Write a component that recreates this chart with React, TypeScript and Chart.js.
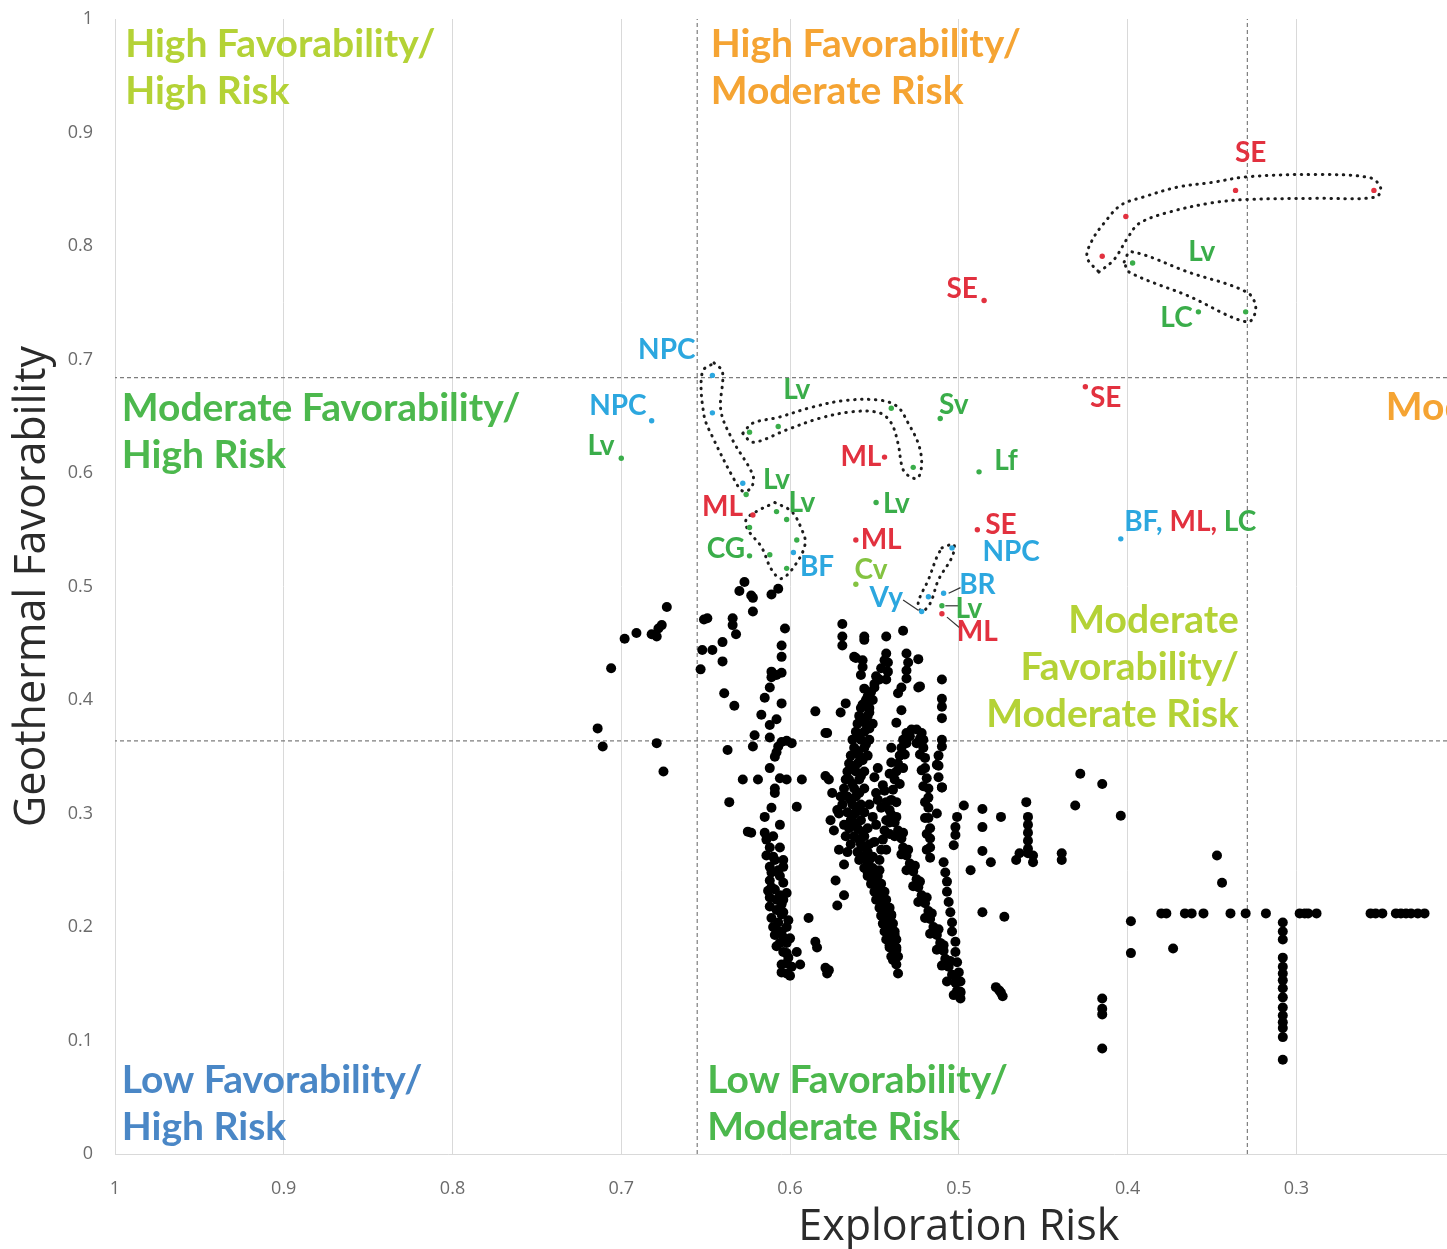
import React, { useEffect, useRef } from "react";
import { Chart, registerables } from "chart.js";

Chart.register(...registerables);

// ---------- axes ----------
const X_TICKS = [1, 0.9, 0.8, 0.7, 0.6, 0.5, 0.4, 0.3];
const Y_TICKS = [0, 0.1, 0.2, 0.3, 0.4, 0.5, 0.6, 0.7, 0.8, 0.9, 1];
const X_MAX = 1;
const X_MIN = 0.2107; // axis is cropped at the right edge of the figure
const RISK_THRESHOLDS = [0.655, 0.329];
const FAV_THRESHOLDS = [0.684, 0.364];

// ---------- colours ----------
const RED = "#e2313f";
const BLUE = "#2ca7df";
const GREEN = "#3aad4a";
const LIME = "#84c341";
const Q_YELLOWGREEN = "#b4d236";
const Q_ORANGE = "#f5a433";
const Q_GREEN = "#4cb84d";
const Q_BLUE = "#4a87c6";

// ---------- labelled sites (x = exploration risk, y = favorability) ----------
const redSites: number[][] = [
  [0.336, 0.849], [0.254, 0.849], [0.401, 0.826], [0.415, 0.791], [0.485, 0.752],
  [0.425, 0.676], [0.544, 0.614], [0.622, 0.563], [0.561, 0.541], [0.489, 0.55], [0.51, 0.476],
];
const blueSites: number[][] = [
  [0.646, 0.686], [0.646, 0.653], [0.682, 0.646], [0.628, 0.591], [0.598, 0.53],
  [0.504, 0.534], [0.509, 0.494], [0.518, 0.491], [0.522, 0.478], [0.404, 0.542],
];
const greenSites: number[][] = [
  [0.397, 0.785], [0.33, 0.742], [0.358, 0.742], [0.511, 0.648], [0.7, 0.613],
  [0.624, 0.636], [0.607, 0.641], [0.54, 0.657], [0.527, 0.605], [0.626, 0.581],
  [0.624, 0.552], [0.608, 0.566], [0.602, 0.559], [0.596, 0.541], [0.624, 0.527],
  [0.612, 0.528], [0.602, 0.516], [0.549, 0.574], [0.488, 0.601], [0.51, 0.483],
];
const limeSites: number[][] = [[0.561, 0.502]];

// ---------- unlabelled sites (black) ----------
const westCluster: number[][] = [
  [0.673, 0.482], [0.698, 0.454], [0.691, 0.459], [0.682, 0.458], [0.679, 0.456], [0.678, 0.463],
  [0.676, 0.466], [0.706, 0.428], [0.714, 0.375], [0.711, 0.359], [0.679, 0.362], [0.675, 0.337],
];
const riskEdgeCluster: number[][] = [
  [0.651, 0.471], [0.649, 0.472], [0.652, 0.444], [0.646, 0.444], [0.653, 0.427], [0.64, 0.451],
  [0.64, 0.434], [0.639, 0.406], [0.633, 0.395], [0.634, 0.472], [0.634, 0.466], [0.632, 0.458],
  [0.63, 0.496], [0.627, 0.504], [0.623, 0.492], [0.622, 0.49], [0.622, 0.478], [0.611, 0.493],
  [0.607, 0.498], [0.603, 0.463], [0.605, 0.448], [0.605, 0.438], [0.605, 0.424], [0.608, 0.422],
  [0.611, 0.42], [0.611, 0.425], [0.612, 0.411], [0.615, 0.402], [0.605, 0.397], [0.617, 0.387],
  [0.608, 0.383], [0.612, 0.378], [0.612, 0.367], [0.621, 0.369], [0.622, 0.359], [0.637, 0.356],
  [0.605, 0.363], [0.602, 0.364], [0.599, 0.362], [0.607, 0.359], [0.608, 0.354], [0.609, 0.35],
  [0.612, 0.34], [0.628, 0.33], [0.619, 0.33], [0.606, 0.331], [0.602, 0.33], [0.593, 0.33],
  [0.609, 0.322], [0.609, 0.318], [0.636, 0.31], [0.611, 0.305], [0.596, 0.306], [0.585, 0.39],
  [0.579, 0.371], [0.579, 0.333],
];
const column60: number[][] = [
  [0.615, 0.297], [0.625, 0.284], [0.623, 0.283], [0.615, 0.283], [0.614, 0.277], [0.612, 0.27],
  [0.614, 0.263], [0.604, 0.259], [0.604, 0.253], [0.612, 0.253], [0.611, 0.248], [0.612, 0.241],
  [0.611, 0.235], [0.612, 0.226], [0.608, 0.224], [0.604, 0.239], [0.602, 0.23], [0.604, 0.224],
  [0.608, 0.215], [0.605, 0.211], [0.611, 0.208], [0.601, 0.206], [0.607, 0.204], [0.602, 0.2],
  [0.608, 0.197], [0.604, 0.191], [0.608, 0.183], [0.602, 0.186], [0.602, 0.177], [0.596, 0.178],
  [0.602, 0.168], [0.602, 0.159], [0.594, 0.167], [0.589, 0.208], [0.585, 0.187], [0.584, 0.182],
  [0.579, 0.164], [0.578, 0.159], [0.609, 0.259], [0.607, 0.25], [0.609, 0.233], [0.605, 0.22],
  [0.609, 0.193], [0.601, 0.173], [0.605, 0.167],
  [0.606, 0.29], [0.61, 0.28], [0.606, 0.27], [0.61, 0.262], [0.606, 0.245], [0.613, 0.232],
  [0.606, 0.228], [0.612, 0.218], [0.604, 0.213], [0.61, 0.2], [0.605, 0.196], [0.606, 0.186],
  [0.6, 0.19], [0.604, 0.178], [0.599, 0.165], [0.605, 0.16], [0.6, 0.157],
];
const midField: number[][] = [
  [0.569, 0.467], [0.569, 0.456], [0.569, 0.448], [0.556, 0.456], [0.556, 0.453], [0.543, 0.456],
  [0.533, 0.461], [0.561, 0.437], [0.557, 0.435], [0.543, 0.441], [0.542, 0.433], [0.542, 0.425],
  [0.543, 0.418], [0.531, 0.441], [0.53, 0.433], [0.531, 0.426], [0.531, 0.419], [0.524, 0.436],
  [0.557, 0.429], [0.558, 0.422], [0.547, 0.418], [0.55, 0.411], [0.556, 0.41], [0.554, 0.403],
  [0.524, 0.411], [0.51, 0.418], [0.51, 0.401], [0.51, 0.394], [0.51, 0.384], [0.534, 0.411],
  [0.536, 0.406], [0.567, 0.397], [0.57, 0.389], [0.534, 0.391], [0.578, 0.371], [0.562, 0.438],
  [0.523, 0.412], [0.512, 0.351], [0.512, 0.342], [0.512, 0.332], [0.51, 0.323], [0.51, 0.365],
  [0.544, 0.435], [0.546, 0.428], [0.549, 0.421], [0.55, 0.414], [0.552, 0.407],
];
const spine: number[][] = [
  [0.555, 0.4], [0.551, 0.4], [0.558, 0.393], [0.553, 0.393], [0.559, 0.386], [0.554, 0.386],
  [0.56, 0.379], [0.555, 0.379], [0.551, 0.379], [0.561, 0.372], [0.556, 0.372],
  [0.563, 0.365], [0.558, 0.365], [0.553, 0.365], [0.562, 0.358], [0.556, 0.358],
  [0.564, 0.351], [0.559, 0.351], [0.554, 0.351], [0.565, 0.344], [0.56, 0.344],
  [0.566, 0.337], [0.561, 0.337], [0.556, 0.337], [0.565, 0.33], [0.559, 0.33],
  [0.568, 0.322], [0.562, 0.322], [0.556, 0.322], [0.566, 0.315], [0.561, 0.315],
  [0.569, 0.308], [0.563, 0.308], [0.558, 0.308], [0.553, 0.308], [0.566, 0.301], [0.561, 0.301],
  [0.556, 0.301], [0.564, 0.294], [0.558, 0.294], [0.565, 0.287], [0.56, 0.287], [0.554, 0.287],
  [0.562, 0.28], [0.556, 0.28], [0.564, 0.273], [0.558, 0.273], [0.553, 0.273], [0.56, 0.266],
  [0.554, 0.266], [0.559, 0.259], [0.553, 0.259], [0.556, 0.252], [0.551, 0.252], [0.554, 0.245],
  [0.548, 0.245], [0.552, 0.238], [0.546, 0.238], [0.55, 0.231], [0.544, 0.231], [0.549, 0.224],
  [0.543, 0.224], [0.547, 0.217], [0.541, 0.217], [0.546, 0.21], [0.54, 0.21], [0.545, 0.203],
  [0.539, 0.203], [0.544, 0.196], [0.538, 0.196], [0.543, 0.189], [0.537, 0.189], [0.541, 0.182],
  [0.537, 0.182], [0.54, 0.174], [0.536, 0.174], [0.537, 0.167], [0.536, 0.159],
  [0.557, 0.396], [0.553, 0.389], [0.557, 0.382], [0.553, 0.375], [0.559, 0.369], [0.555, 0.361],
  [0.56, 0.355], [0.557, 0.347], [0.562, 0.341], [0.558, 0.333], [0.563, 0.326], [0.559, 0.318],
  [0.564, 0.312], [0.56, 0.305], [0.563, 0.298], [0.561, 0.291], [0.557, 0.284], [0.559, 0.277],
  [0.556, 0.27], [0.557, 0.262], [0.554, 0.256], [0.552, 0.249], [0.55, 0.242], [0.548, 0.235],
  [0.546, 0.228], [0.545, 0.221], [0.543, 0.214], [0.542, 0.207], [0.541, 0.2], [0.54, 0.193],
  [0.539, 0.186], [0.538, 0.178], [0.567, 0.33], [0.57, 0.315], [0.571, 0.3], [0.568, 0.29],
  [0.567, 0.28], [0.566, 0.266],
];
const innerBand: number[][] = [
  [0.548, 0.34], [0.545, 0.325], [0.549, 0.318], [0.546, 0.305], [0.549, 0.29], [0.55, 0.275],
  [0.551, 0.262], [0.543, 0.31], [0.544, 0.32], [0.541, 0.335], [0.54, 0.345],
];
const leftScatter: number[][] = [
  [0.575, 0.318], [0.572, 0.303], [0.574, 0.285], [0.571, 0.268], [0.576, 0.294], [0.568, 0.255],
  [0.573, 0.241], [0.577, 0.162], [0.577, 0.33], [0.568, 0.228], [0.572, 0.219],
];
const hairpin: number[][] = [
  [0.533, 0.365], [0.531, 0.371], [0.528, 0.374], [0.525, 0.374], [0.522, 0.371], [0.521, 0.365],
  [0.534, 0.358], [0.535, 0.351], [0.536, 0.344], [0.537, 0.337], [0.538, 0.33], [0.539, 0.321],
  [0.54, 0.312], [0.541, 0.303], [0.543, 0.294], [0.544, 0.285], [0.545, 0.277], [0.546, 0.268],
  [0.547, 0.259], [0.547, 0.25],
  [0.521, 0.358], [0.52, 0.349], [0.52, 0.34], [0.519, 0.331], [0.518, 0.322], [0.518, 0.314],
  [0.518, 0.305], [0.518, 0.296], [0.517, 0.287], [0.517, 0.278], [0.517, 0.27], [0.517, 0.261],
  [0.531, 0.362], [0.529, 0.368], [0.523, 0.366], [0.532, 0.352], [0.533, 0.34], [0.535, 0.326],
  [0.537, 0.31], [0.539, 0.296], [0.541, 0.282], [0.543, 0.268], [0.523, 0.352], [0.522, 0.338],
  [0.521, 0.324], [0.52, 0.31], [0.52, 0.296], [0.519, 0.282], [0.519, 0.268],
];
const diagonalA: number[][] = [
  [0.54, 0.299], [0.538, 0.292], [0.536, 0.285], [0.534, 0.278], [0.533, 0.27], [0.531, 0.263],
  [0.529, 0.256], [0.527, 0.249], [0.525, 0.242], [0.524, 0.235], [0.522, 0.228], [0.52, 0.221],
  [0.518, 0.214], [0.517, 0.207], [0.515, 0.2], [0.513, 0.193], [0.511, 0.186], [0.509, 0.179],
  [0.508, 0.172], [0.506, 0.165], [0.504, 0.158], [0.502, 0.151], [0.501, 0.144], [0.499, 0.137],
  [0.537, 0.297], [0.533, 0.283], [0.53, 0.268], [0.526, 0.254], [0.523, 0.24], [0.519, 0.226],
  [0.516, 0.212], [0.512, 0.198], [0.509, 0.184], [0.505, 0.17], [0.502, 0.156], [0.499, 0.142],
  [0.541, 0.292], [0.538, 0.28], [0.534, 0.264], [0.531, 0.25], [0.527, 0.236], [0.524, 0.222],
  [0.52, 0.208], [0.517, 0.194], [0.513, 0.18], [0.51, 0.166], [0.507, 0.152], [0.503, 0.14],
];
const diagonalB: number[][] = [
  [0.509, 0.257], [0.508, 0.248], [0.507, 0.24], [0.507, 0.231], [0.506, 0.222], [0.505, 0.213],
  [0.504, 0.204], [0.504, 0.196], [0.502, 0.187], [0.502, 0.178], [0.501, 0.169], [0.5, 0.16],
  [0.499, 0.152], [0.499, 0.143],
];
const blobExtras: number[][] = [
  [0.544, 0.219], [0.54, 0.211], [0.543, 0.202], [0.538, 0.193], [0.541, 0.184], [0.537, 0.18],
  [0.539, 0.171], [0.537, 0.38], [0.54, 0.358], [0.55, 0.332], [0.548, 0.312], [0.551, 0.297],
  [0.525, 0.362], [0.51, 0.359], [0.513, 0.343], [0.51, 0.323], [0.513, 0.3], [0.554, 0.248],
];
const eastField: number[][] = [
  [0.497, 0.307], [0.486, 0.304], [0.475, 0.297], [0.46, 0.31], [0.459, 0.297], [0.459, 0.29],
  [0.459, 0.283], [0.459, 0.276], [0.459, 0.269], [0.459, 0.265], [0.464, 0.265], [0.466, 0.259],
  [0.456, 0.263], [0.456, 0.257], [0.439, 0.265], [0.439, 0.259], [0.501, 0.297], [0.502, 0.288],
  [0.502, 0.281], [0.503, 0.272], [0.486, 0.288], [0.486, 0.267], [0.481, 0.257], [0.493, 0.25],
  [0.486, 0.213], [0.473, 0.209], [0.478, 0.147], [0.476, 0.144], [0.475, 0.142], [0.474, 0.139],
  [0.428, 0.335], [0.415, 0.326], [0.431, 0.307], [0.404, 0.298], [0.415, 0.137], [0.415, 0.128],
  [0.415, 0.123], [0.415, 0.093], [0.398, 0.205], [0.398, 0.177], [0.373, 0.181], [0.347, 0.263],
  [0.344, 0.239],
];
const row021: number[][] = [
  [0.38, 0.212], [0.377, 0.212], [0.366, 0.212], [0.362, 0.212], [0.355, 0.212], [0.339, 0.212],
  [0.33, 0.212], [0.318, 0.212], [0.298, 0.212], [0.295, 0.212], [0.293, 0.212], [0.288, 0.212],
  [0.256, 0.212], [0.253, 0.212], [0.249, 0.212], [0.241, 0.212], [0.238, 0.212], [0.235, 0.212],
  [0.232, 0.212], [0.228, 0.212], [0.224, 0.212],
];
const column031: number[][] = [
  [0.308, 0.204], [0.308, 0.196], [0.308, 0.189], [0.308, 0.173], [0.308, 0.165], [0.308, 0.159],
  [0.308, 0.153], [0.308, 0.146], [0.308, 0.138], [0.308, 0.129], [0.308, 0.122], [0.308, 0.116],
  [0.308, 0.111], [0.308, 0.103], [0.308, 0.083],
];

// ---------- dotted enclosures (outline vertices, data units) ----------
const loopSE: number[][] = [
  [0.417, 0.777], [0.408, 0.788], [0.4, 0.807], [0.393, 0.82], [0.375, 0.83], [0.35, 0.838],
  [0.329, 0.841], [0.288, 0.842], [0.253, 0.843], [0.25, 0.851], [0.256, 0.86], [0.288, 0.863],
  [0.329, 0.861], [0.35, 0.856], [0.37, 0.852], [0.391, 0.843], [0.404, 0.836], [0.414, 0.82],
  [0.421, 0.805], [0.424, 0.79], [0.417, 0.777],
];
const loopLv: number[][] = [
  [0.402, 0.786], [0.398, 0.795], [0.364, 0.777], [0.329, 0.759], [0.324, 0.745], [0.329, 0.733],
  [0.364, 0.756], [0.399, 0.777], [0.402, 0.786],
];
const loopNPC: number[][] = [
  [0.645, 0.697], [0.64, 0.689], [0.641, 0.655], [0.634, 0.629], [0.622, 0.598], [0.623, 0.587],
  [0.628, 0.584], [0.633, 0.594], [0.646, 0.632], [0.651, 0.651], [0.652, 0.689], [0.645, 0.697],
];
const loopLvWide: number[][] = [
  [0.628, 0.635], [0.622, 0.644], [0.607, 0.649], [0.587, 0.658], [0.567, 0.664], [0.546, 0.664],
  [0.536, 0.658], [0.53, 0.644], [0.524, 0.626], [0.522, 0.609], [0.524, 0.596], [0.528, 0.596],
  [0.533, 0.603], [0.536, 0.626], [0.54, 0.644], [0.547, 0.653], [0.563, 0.654], [0.583, 0.648],
  [0.602, 0.638], [0.622, 0.627], [0.628, 0.635],
];
const loopML: number[][] = [
  [0.609, 0.574], [0.599, 0.566], [0.593, 0.55], [0.591, 0.538], [0.596, 0.521], [0.605, 0.507],
  [0.611, 0.515], [0.617, 0.535], [0.625, 0.55], [0.626, 0.559], [0.62, 0.566], [0.609, 0.574],
];
const loopBR: number[][] = [
  [0.51, 0.534], [0.503, 0.537], [0.504, 0.526], [0.512, 0.506], [0.517, 0.485], [0.522, 0.478],
  [0.524, 0.486], [0.518, 0.506], [0.513, 0.526], [0.51, 0.534],
];
const leaderLines: number[][][] = [
  [[0.533, 0.488], [0.524, 0.479]],
  [[0.506, 0.494], [0.499, 0.499]],
  [[0.508, 0.483], [0.499, 0.483]],
  [[0.507, 0.473], [0.499, 0.463]],
];

// ---------- text annotations ----------
const quadrantLabels = [
  { lines: ["High Favorability/", "High Risk"], x: 0.994, y: 0.978, color: Q_YELLOWGREEN, align: "left" },
  { lines: ["High Favorability/", "Moderate Risk"], x: 0.647, y: 0.978, color: Q_ORANGE, align: "left" },
  { lines: ["Moderate Favorability/", "High Risk"], x: 0.996, y: 0.657, color: Q_GREEN, align: "left" },
  { lines: ["Moderate", "Favorability/", "Moderate Risk"], x: 0.334, y: 0.4705, color: Q_YELLOWGREEN, align: "right" },
  { lines: ["Moderate Favorability/"], x: 0.247, y: 0.658, color: Q_ORANGE, align: "left" },
  { lines: ["Low Favorability/", "High Risk"], x: 0.996, y: 0.0652, color: Q_BLUE, align: "left" },
  { lines: ["Low Favorability/", "Moderate Risk"], x: 0.649, y: 0.0652, color: Q_GREEN, align: "left" },
];
const siteLabels = [
  { text: "SE", x: 0.327, y: 0.882, color: RED },
  { text: "SE", x: 0.498, y: 0.762, color: RED },
  { text: "SE", x: 0.413, y: 0.666, color: RED },
  { text: "Lv", x: 0.356, y: 0.795, color: GREEN },
  { text: "LC", x: 0.371, y: 0.737, color: GREEN },
  { text: "NPC", x: 0.673, y: 0.708, color: BLUE },
  { text: "NPC", x: 0.702, y: 0.659, color: BLUE },
  { text: "Lv", x: 0.712, y: 0.624, color: GREEN },
  { text: "Lv", x: 0.596, y: 0.673, color: GREEN },
  { text: "Sv", x: 0.503, y: 0.66, color: GREEN },
  { text: "ML", x: 0.558, y: 0.614, color: RED },
  { text: "Lf", x: 0.472, y: 0.611, color: GREEN },
  { text: "Lv", x: 0.608, y: 0.594, color: GREEN },
  { text: "ML", x: 0.64, y: 0.57, color: RED },
  { text: "Lv", x: 0.593, y: 0.574, color: GREEN },
  { text: "Lv", x: 0.537, y: 0.573, color: GREEN },
  { text: "SE", x: 0.475, y: 0.554, color: RED },
  { text: "ML", x: 0.546, y: 0.541, color: RED },
  { text: "CG", x: 0.638, y: 0.533, color: GREEN },
  { text: "NPC", x: 0.469, y: 0.53, color: BLUE },
  { text: "BF", x: 0.584, y: 0.517, color: BLUE },
  { text: "Cv", x: 0.552, y: 0.515, color: LIME },
  { text: "BR", x: 0.489, y: 0.501, color: BLUE },
  { text: "Vy", x: 0.543, y: 0.49, color: BLUE },
  { text: "Lv", x: 0.494, y: 0.48, color: GREEN },
  { text: "ML", x: 0.489, y: 0.46, color: RED },
];
const multiLabel = {
  x: 0.402,
  y: 0.557,
  parts: [
    { text: "BF, ", color: BLUE },
    { text: "ML, ", color: RED },
    { text: "LC", color: GREEN },
  ],
};
const X_TITLE = "Exploration Risk";
const Y_TITLE = "Geothermal Favorability";

const toPts = (arr: number[][]) => arr.map(([x, y]) => ({ x, y }));

const annotationPlugin = {
  id: "annotations",
  afterDatasetsDraw(chart: any) {
    const { ctx } = chart;
    const xs = chart.scales.x;
    const ys = chart.scales.y;
    ctx.save();
    ctx.font = "bold 39px Lato";
    ctx.textBaseline = "middle";
    quadrantLabels.forEach((q) => {
      const px = xs.getPixelForValue(q.x);
      const py = ys.getPixelForValue(q.y);
      ctx.fillStyle = q.color;
      ctx.textAlign = q.align;
      q.lines.forEach((line, i) => ctx.fillText(line, px, py + i * 47));
    });
    ctx.font = "bold 28px Lato";
    ctx.textAlign = "center";
    siteLabels.forEach((l) => {
      ctx.fillStyle = l.color;
      ctx.fillText(l.text, xs.getPixelForValue(l.x), ys.getPixelForValue(l.y));
    });
    ctx.textAlign = "left";
    let mx = xs.getPixelForValue(multiLabel.x);
    const my = ys.getPixelForValue(multiLabel.y);
    multiLabel.parts.forEach((p) => {
      ctx.fillStyle = p.color;
      ctx.fillText(p.text, mx, my);
      mx += ctx.measureText(p.text).width;
    });
    ctx.restore();
  },
  afterDraw(chart: any) {
    const { ctx } = chart;
    const xs = chart.scales.x;
    const ys = chart.scales.y;
    ctx.save();
    ctx.fillStyle = "#2b2b2b";
    ctx.font = "43px 'Open Sans'";
    ctx.textAlign = "center";
    ctx.textBaseline = "middle";
    ctx.fillText(X_TITLE, xs.getPixelForValue(0.5), xs.bottom - 21);
    ctx.translate(ys.left + 33, (ys.top + ys.bottom) / 2);
    ctx.rotate(-Math.PI / 2);
    ctx.fillText(Y_TITLE, 0, 0);
    ctx.restore();
  },
};

const fmt = (v: number) => String(Math.round(v * 10) / 10);

export default function App() {
  const ref = useRef<HTMLCanvasElement>(null);
  useEffect(() => {
    if (!ref.current) return;
    const black = [
      ...westCluster, ...riskEdgeCluster, ...column60, ...midField, ...spine, ...innerBand,
      ...leftScatter, ...hairpin, ...diagonalA, ...diagonalB, ...blobExtras, ...eastField,
      ...row021, ...column031,
    ];
    const pointSet = (label: string, data: number[][], color: string, r: number) => ({
      label,
      data: toPts(data),
      backgroundColor: color,
      borderColor: color,
      borderWidth: 0,
      pointRadius: r,
      showLine: false,
    });
    const loopSet = (label: string, data: number[][]) => ({
      label,
      data: toPts(data),
      showLine: true,
      borderColor: "#1c1c1c",
      borderWidth: 3,
      borderDash: [0.5, 6.5],
      borderCapStyle: "round",
      tension: 0.35,
      pointRadius: 0,
      fill: false,
    });
    const datasets: any[] = [
      pointSet("SE / ML", redSites, RED, 2.7),
      pointSet("NPC / BF / BR / Vy", blueSites, BLUE, 2.7),
      pointSet("Lv / LC / CG / Sv / Lf", greenSites, GREEN, 2.7),
      pointSet("Cv", limeSites, LIME, 2.7),
      pointSet("Other sites", black, "#000000", 5),
      loopSet("loop SE", loopSE),
      loopSet("loop Lv", loopLv),
      loopSet("loop NPC", loopNPC),
      loopSet("loop Lv wide", loopLvWide),
      loopSet("loop ML", loopML),
      loopSet("loop BR", loopBR),
      ...leaderLines.map((seg, i) => ({
        label: "leader " + i,
        data: toPts(seg),
        showLine: true,
        borderColor: "#333333",
        borderWidth: 1.2,
        pointRadius: 0,
      })),
      ...RISK_THRESHOLDS.map((v) => ({
        label: "risk threshold " + v,
        data: [{ x: v, y: 0 }, { x: v, y: 1 }],
        showLine: true,
        borderColor: "#7d7d7d",
        borderWidth: 1.2,
        borderDash: [4, 3],
        pointRadius: 0,
      })),
      ...FAV_THRESHOLDS.map((v) => ({
        label: "favorability threshold " + v,
        data: [{ x: X_MIN, y: v }, { x: X_MAX, y: v }],
        showLine: true,
        borderColor: "#7d7d7d",
        borderWidth: 1.2,
        borderDash: [4, 3],
        pointRadius: 0,
      })),
    ];
    const chart = new Chart(ref.current, {
      type: "scatter",
      data: { datasets },
      options: {
        animation: false,
        responsive: false,
        maintainAspectRatio: false,
        layout: { autoPadding: false, padding: { top: 19, right: 0, bottom: 0, left: 0 } },
        plugins: { legend: { display: false }, tooltip: { enabled: false } },
        scales: {
          x: {
            type: "linear",
            reverse: true,
            min: X_MIN,
            max: X_MAX,
            afterBuildTicks: (s: any) => {
              s.ticks = X_TICKS.map((value) => ({ value }));
            },
            afterFit: (s: any) => {
              s.height = 95;
            },
            grid: { color: "#d9d9d9", lineWidth: 1, drawTicks: false },
            border: { display: true, color: "#d9d9d9", width: 1 },
            ticks: {
              padding: 24,
              color: "#6b6b6b",
              font: { family: "'Open Sans'", size: 18 },
              callback: (v: any) => fmt(Number(v)),
              maxRotation: 0,
              autoSkip: false,
            },
          },
          y: {
            type: "linear",
            min: 0,
            max: 1,
            afterBuildTicks: (s: any) => {
              s.ticks = Y_TICKS.map((value) => ({ value }));
            },
            afterFit: (s: any) => {
              s.width = 115;
              s.paddingTop = 0;
              s.paddingBottom = 0;
            },
            grid: { display: false, drawTicks: false },
            border: { display: true, color: "#d9d9d9", width: 1 },
            ticks: {
              padding: 22,
              color: "#6b6b6b",
              font: { family: "'Open Sans'", size: 18 },
              callback: (v: any) => fmt(Number(v)),
              autoSkip: false,
            },
          },
        },
      } as any,
      plugins: [annotationPlugin],
    });
    return () => chart.destroy();
  }, []);
  return (
    <div style={{ position: "fixed", left: 0, top: 0, width: 1447, height: 1249, background: "#ffffff" }}>
      <canvas ref={ref} width={1447} height={1249} style={{ display: "block", width: 1447, height: 1249 }} />
    </div>
  );
}
